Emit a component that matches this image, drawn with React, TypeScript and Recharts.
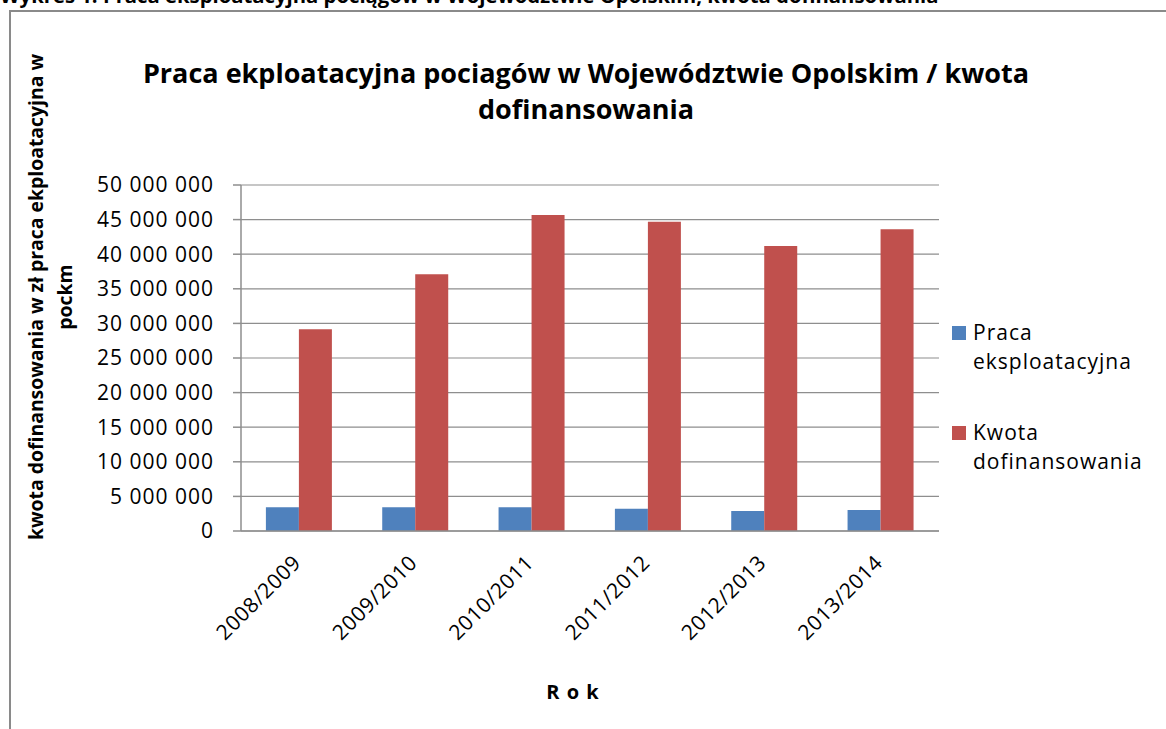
import React from 'react';
import { BarChart, Bar, CartesianGrid, XAxis, YAxis, Legend } from 'recharts';

const seasons = ['2008/2009', '2009/2010', '2010/2011', '2011/2012', '2012/2013', '2013/2014'];
const pracaEksploatacyjna = [3420000, 3420000, 3420000, 3230000, 2890000, 3030000];
const kwotaDofinansowania = [29150000, 37100000, 45650000, 44700000, 41200000, 43600000];
const yTicks = [0, 5000000, 10000000, 15000000, 20000000, 25000000, 30000000, 35000000, 40000000, 45000000, 50000000];
const seriesNames = ['Praca eksploatacyjna', 'Kwota dofinansowania'];

const headerText = 'Wykres 1: Praca eksploatacyjna pociągów w Województwie Opolskim, kwota dofinansowania';
const titleLines = ['Praca ekploatacyjna pociagów w Województwie Opolskim / kwota', 'dofinansowania'];
const yLabelLines = ['kwota dofinansowania w zł praca ekploatacyjna w', 'pockm'];
const xLabel = 'R o k';

const FONT = '"Open Sans", "Liberation Sans", sans-serif';
const BLUE = '#4F81BD';
const RED = '#C0504D';
const GRID = '#8e8e8e';

const data = seasons.map((rok, i) => ({
  rok,
  praca: pracaEksploatacyjna[i],
  kwota: kwotaDofinansowania[i],
}));

const formatNumber = (v: number) => String(v).replace(/\B(?=(\d{3})+(?!\d))/g, ' ');

const XTick = (props: any) => {
  const { x, y, payload } = props;
  return (
    <g transform={`translate(${x + 3},${y + 31})`}>
      <text
        transform="rotate(-45)"
        textAnchor="end"
        fontFamily={FONT}
        fontSize={21}
        letterSpacing={0.6}
        fill="#000"
      >
        {payload.value}
      </text>
    </g>
  );
};

const YAxisTitle = () => (
  <g fontFamily={FONT} fontSize={19.4} fontWeight="bold" fill="#000">
    <text transform="translate(35,297) rotate(-90)" textAnchor="middle" dominantBaseline="central">
      {yLabelLines[0]}
    </text>
    <text transform="translate(64,297) rotate(-90)" textAnchor="middle" dominantBaseline="central">
      {yLabelLines[1]}
    </text>
  </g>
);

const XAxisTitle = () => (
  <text x={573} y={699} textAnchor="middle" fontFamily={FONT} fontSize={20} fontWeight="bold" letterSpacing={1} fill="#000">
    {xLabel}
  </text>
);

const LegendContent = (props: any) => {
  const items = [...(props.payload || [])].sort(
    (a: any, b: any) => seriesNames.indexOf(a.value) - seriesNames.indexOf(b.value)
  );
  return (
    <div style={{ fontFamily: FONT, fontSize: 21, letterSpacing: 1, lineHeight: '29px', color: '#000' }}>
      {items.map((entry: any, i: number) => (
        <div key={entry.value} style={{ display: 'flex', alignItems: 'flex-start', marginBottom: i === 0 ? 42 : 0 }}>
          <span style={{ width: 14, height: 14, background: entry.color, marginTop: 8, marginRight: 7, flex: 'none' }} />
          <div>
            {String(entry.value).split(' ').map((w: string) => (
              <div key={w}>{w}</div>
            ))}
          </div>
        </div>
      ))}
    </div>
  );
};

export default function App() {
  return (
    <div style={{ position: 'absolute', left: 0, top: 0, width: 1166, height: 729, overflow: 'hidden', background: '#fff' }}>
      <div style={{ position: 'absolute', left: 9, top: 10, width: 1300, height: 900, border: '2px solid #8a8a8a', boxSizing: 'border-box' }} />
      <div style={{ position: 'absolute', left: 0, top: 0 }}>
        <BarChart
          width={1166}
          height={729}
          data={data}
          margin={{ top: 185, right: 227, bottom: 48, left: 11 }}
          barCategoryGap="21.4%"
          barGap={0}
        >
          <CartesianGrid vertical={false} stroke={GRID} strokeWidth={1.2} />
          <XAxis
            dataKey="rok"
            height={150}
            tickLine={false}
            tickSize={0}
            tick={<XTick />}
            interval={0}
            stroke={GRID}
            strokeWidth={1.5}
            label={<XAxisTitle />}
          />
          <YAxis
            width={230}
            domain={[0, 50000000]}
            ticks={yTicks}
            interval={0}
            tickFormatter={formatNumber}
            tickSize={8}
            tickMargin={19}
            stroke={GRID}
            strokeWidth={1.5}
            tick={{ fontFamily: FONT, fontSize: 21, fill: '#000', letterSpacing: 1 }}
            label={<YAxisTitle />}
          />
          <Legend
            layout="vertical"
            align="center"
            verticalAlign="middle"
            itemSorter={null}
            wrapperStyle={{ left: 952, top: 318, width: 214 }}
            content={<LegendContent />}
          />
          <Bar dataKey="praca" name={seriesNames[0]} fill={BLUE} isAnimationActive={false} />
          <Bar dataKey="kwota" name={seriesNames[1]} fill={RED} isAnimationActive={false} />
        </BarChart>
      </div>
      <svg width={1166} height={729} style={{ position: 'absolute', left: 0, top: 0, pointerEvents: 'none' }}>
        <text x={0} y={3} fontFamily={FONT} fontSize={20.3} fontWeight="bold" fill="#000">
          {headerText}
        </text>
        <g fontFamily={FONT} fontSize={27} fontWeight="bold" fill="#000" textAnchor="middle">
          <text x={586} y={83}>{titleLines[0]}</text>
          <text x={586} y={119}>{titleLines[1]}</text>
        </g>
      </svg>
    </div>
  );
}
